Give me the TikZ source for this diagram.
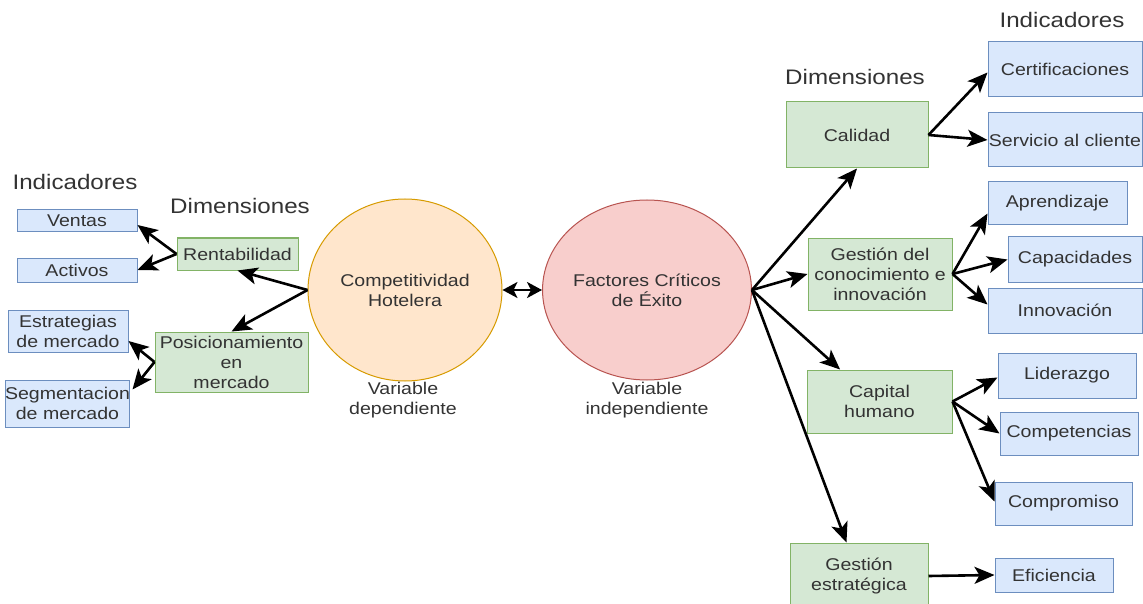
\documentclass[tikz,border=0pt]{standalone}
\usepackage{fontspec}
\setmainfont[FakeStretch=1.15]{Liberation Sans}
\usetikzlibrary{arrows.meta,calc,shapes.geometric}

\definecolor{greenfill}{HTML}{D5E8D4}
\definecolor{greenline}{HTML}{82B366}
\definecolor{bluefill}{HTML}{DAE8FC}
\definecolor{blueline}{HTML}{6C8EBF}
\definecolor{orangefill}{HTML}{FFE6CC}
\definecolor{orangeline}{HTML}{D79B00}
\definecolor{redfill}{HTML}{F8CECC}
\definecolor{redline}{HTML}{B85450}
\definecolor{txt}{HTML}{333333}

\tikzset{
  base/.style={inner sep=0pt, align=center, text=txt,
    font=\fontsize{17}{20}\selectfont},
  dimbox/.style={base, draw=greenline, fill=greenfill, line width=1pt, rectangle},
  indbox/.style={base, draw=blueline, fill=bluefill, line width=1pt, rectangle},
  title/.style={inner sep=0pt, text=txt, font=\fontsize{21}{24}\selectfont},
  note/.style={base},
  varcircle/.style={base, ellipse, line width=1pt},
  link/.style={draw=black, line width=2.6pt, -{Stealth[length=20pt,width=17pt,inset=5pt]}},
  both/.style={draw=black, line width=2.6pt,
    {Stealth[length=15pt,width=16pt,inset=4pt]}-{Stealth[length=15pt,width=16pt,inset=4pt]}}
}

\begin{document}
\begin{tikzpicture}[x=1pt,y=-1pt]
\useasboundingbox (0,0) rectangle (1143,604);
\clip (0,0) rectangle (1143,604);
\fill[white] (0,0) rectangle (1143,604);

% ---- headings
\node[title] (tIndL) at (75,182) {Indicadores};
\node[title] (tDimL) at (240,206) {Dimensiones};
\node[title] (tDimR) at (855,77) {Dimensiones};
\node[title] (tIndR) at (1062,20) {Indicadores};

% ---- central variables
\node[varcircle, draw=orangeline, fill=orangefill,
      minimum width=194pt, minimum height=182pt] (comp) at (405,290)
      {Competitividad\\Hotelera};
\node[varcircle, draw=redline, fill=redfill,
      minimum width=198pt, minimum height=180pt] (fce) at (647,290)
      {Factores Críticos\\de Éxito};
\node[note] (vdep) at (403,400) {Variable\\dependiente};
\node[note] (vind) at (647,400) {Variable\\independiente};

% ---- left dimensions and indicators
\node[dimbox, minimum width=121pt, minimum height=32pt] (rent) at (237.5,254) {Rentabilidad};
\node[dimbox, minimum width=153pt, minimum height=60pt] (pos) at (231.5,362) {Posicionamiento\\en\\mercado};
\node[indbox, minimum width=120pt, minimum height=22pt] (ventas) at (77,221) {Ventas};
\node[indbox, minimum width=120pt, minimum height=24pt] (activos) at (77,270) {Activos};
\node[indbox, minimum width=120pt, minimum height=42pt] (estr) at (68,331) {Estrategias\\de mercado};
\node[indbox, minimum width=121pt, minimum height=47pt] (segm) at (67.5,403.5) {Segmentacion\\de mercado};

% ---- right dimensions
\node[dimbox, minimum width=142pt, minimum height=66pt] (cal) at (857,135) {Calidad};
\node[dimbox, minimum width=144pt, minimum height=72pt] (gc) at (880,274) {Gestión del\\conocimiento e\\innovación};
\node[dimbox, minimum width=145pt, minimum height=63pt] (ch) at (879.5,401.5) {Capital\\humano};
\node[dimbox, minimum width=138pt, minimum height=66pt] (ge) at (859,576) {Gestión\\estratégica};

% ---- right indicators
\node[indbox, minimum width=154pt, minimum height=55pt] (cert) at (1065,69.5) {Certificaciones};
\node[indbox, minimum width=154pt, minimum height=54pt] (serv) at (1065,140) {Servicio al cliente};
\node[indbox, minimum width=139pt, minimum height=43pt] (apr) at (1057.5,203.5) {Aprendizaje};
\node[indbox, minimum width=134pt, minimum height=45pt] (capac) at (1075,259.5) {Capacidades};
\node[indbox, minimum width=154pt, minimum height=45pt] (innov) at (1065,310.5) {Innovación};
\node[indbox, minimum width=138pt, minimum height=45pt] (lid) at (1067,375.5) {Liderazgo};
\node[indbox, minimum width=138pt, minimum height=43pt] (compet) at (1069,433.5) {Competencias};
\node[indbox, minimum width=137pt, minimum height=43pt] (compr) at (1063.5,503.5) {Compromiso};
\node[indbox, minimum width=118pt, minimum height=34pt] (efic) at (1054,575) {Eficiencia};

% ---- connectors, left side
\draw[both] (comp.east) -- (fce.west);
\draw[link] (comp.west) -- (rent.south);
\draw[link] (comp.west) -- (pos.north);
\draw[link] (rent.west) -- ($(ventas.east)+(0,4)$);
\draw[link] (rent.west) -- (activos.east);
\draw[link] (pos.west) -- ($(estr.east)+(0,10)$);
\draw[link] (pos.west) -- ($(segm.east)+(2,-14)$);

% ---- connectors, right side
\draw[link] (fce.east) -- (cal.south);
\draw[link] (fce.east) -- (gc.west);
\draw[link] (fce.east) -- ($(ch.north west)!0.23!(ch.north east)$);
\draw[link] (fce.east) -- ($(ge.north west)!0.41!(ge.north east)$);
\draw[link] (cal.east) -- ($(cert.west)+(0,3)$);
\draw[link] (cal.east) -- (serv.west);
\draw[link] (gc.east) -- ($(apr.west)+(0,10)$);
\draw[link] (gc.east) -- (capac.west);
\draw[link] (gc.east) -- ($(innov.west)+(0,-6)$);
\draw[link] (ch.east) -- ($(lid.west)+(0,2)$);
\draw[link] (ch.east) -- (compet.west);
\draw[link] (ch.east) -- ($(compr.west)+(0,-2)$);
\draw[link] (ge.east) -- (efic.west);
\end{tikzpicture}
\end{document}
